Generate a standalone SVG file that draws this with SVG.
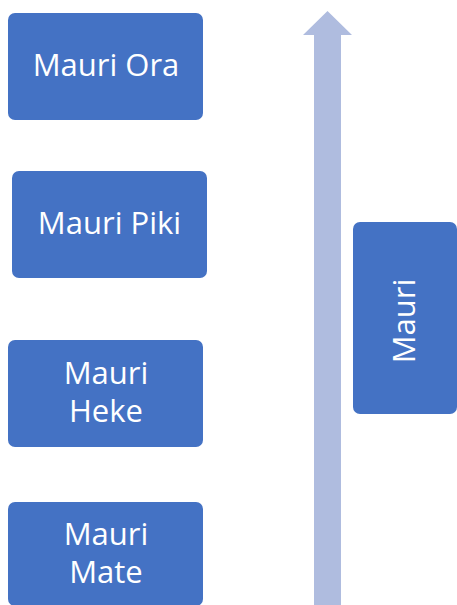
<svg xmlns="http://www.w3.org/2000/svg" width="457" height="605" viewBox="0 0 457 605">
  <style>
    .box { fill: #4472C4; }
    .lbl { font-family: "Open Sans", "Liberation Sans", sans-serif; font-size: 31px; fill: #FFFFFF; text-anchor: middle; }
    .arrow { fill: #AFBCDF; }
  </style>
  <rect width="457" height="605" fill="#FFFFFF"/>
  <g id="connectors">
    <path class="arrow" d="M314,605 L314,35 L303,35 L327.5,11 L352,35 L341,35 L341,605 Z"/>
  </g>
  <g id="node-mauri-ora">
    <rect class="box" x="8" y="13" width="195" height="107" rx="7"/>
    <text class="lbl" x="106" y="76">Mauri Ora</text>
  </g>
  <g id="node-mauri-piki">
    <rect class="box" x="12" y="171" width="195" height="107" rx="7"/>
    <text class="lbl" x="109.5" y="234">Mauri Piki</text>
  </g>
  <g id="node-mauri-heke">
    <rect class="box" x="8" y="340" width="195" height="107" rx="7"/>
    <text class="lbl" x="106" y="384">Mauri</text>
    <text class="lbl" x="106" y="422">Heke</text>
  </g>
  <g id="node-mauri-mate">
    <rect class="box" x="8" y="502" width="195" height="104" rx="7"/>
    <text class="lbl" x="106" y="545">Mauri</text>
    <text class="lbl" x="106" y="583">Mate</text>
  </g>
  <g id="node-mauri">
    <rect class="box" x="353" y="222" width="104" height="192" rx="7"/>
    <text class="lbl" transform="translate(415,321) rotate(-90)" x="0" y="0">Mauri</text>
  </g>
</svg>
